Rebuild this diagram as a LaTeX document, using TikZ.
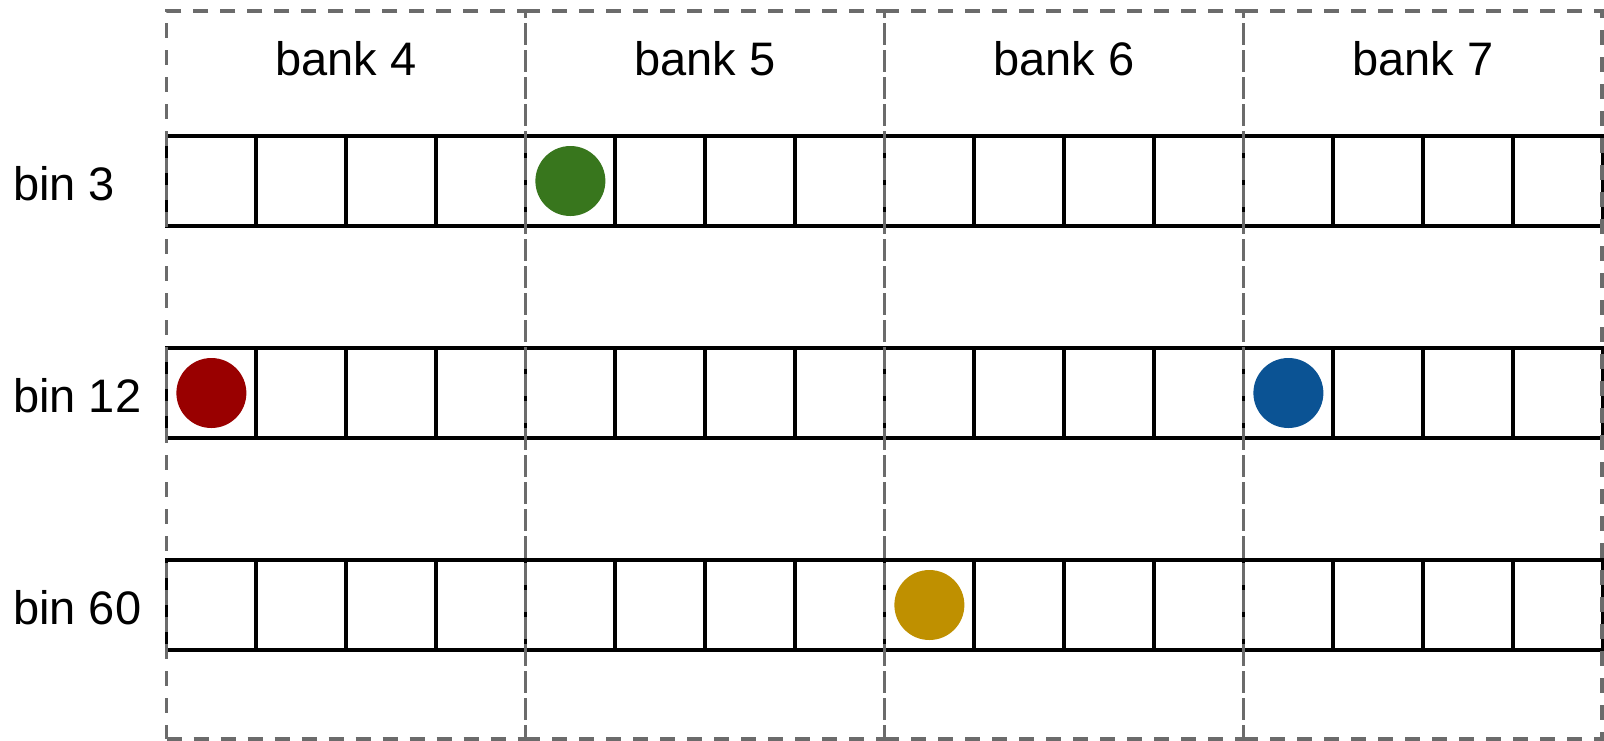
\documentclass[tikz,border=0pt]{standalone}
\usepackage{fontspec}
\setmainfont{Liberation Sans}
\definecolor{dgray}{HTML}{6B6B6B}
\definecolor{cred}{HTML}{990000}
\definecolor{cgreen}{HTML}{38761D}
\definecolor{cblue}{HTML}{0B5394}
\definecolor{cgold}{HTML}{BF9000}
\begin{document}
\begin{tikzpicture}[x=1pt,y=-1pt,
  cell/.style={draw=black,line width=3.8pt,minimum width=89.75pt,minimum height=90pt,inner sep=0pt,outer sep=0pt},
  bankbox/.style={draw=dgray,line width=3.4pt,dash pattern=on 15pt off 12pt,minimum width=358.9pt,minimum height=728pt,inner sep=0pt,outer sep=0pt},
  lbl/.style={font=\fontsize{47}{50}\selectfont,inner sep=0pt},
  dot/.style={circle,minimum size=70pt,inner sep=0pt,draw=none}]
\useasboundingbox (0,0) rectangle (1604,740);
% rows of cells
\foreach \r/\y in {1/181,2/393,3/605}{
  \foreach \c in {1,...,16}{
    \node[cell] (r\r c\c) at ({166.5+89.75*(\c-0.5)},\y) {};
  }
}
% bank boxes
\foreach \b/\n in {1/4,2/5,3/6,4/7}{
  \node[bankbox] (bank\n) at ({166.5+358.9*(\b-0.5)},375) {};
  \node[lbl,anchor=base] (banklbl\n) at ({166.5+358.9*(\b-0.5)},75) {bank \n};
}
% bin labels
\node[lbl,anchor=base west] (bin3) at (13,200) {bin 3};
\node[lbl,anchor=base west] (bin12) at (13,412) {bin 12};
\node[lbl,anchor=base west] (bin60) at (13,624) {bin 60};
% dots
\node[dot,fill=cgreen] (dgreen) at (r1c5) {};
\node[dot,fill=cred] (dred) at (r2c1) {};
\node[dot,fill=cblue] (dblue) at (r2c13) {};
\node[dot,fill=cgold] (dgold) at (r3c9) {};
\end{tikzpicture}
\end{document}
